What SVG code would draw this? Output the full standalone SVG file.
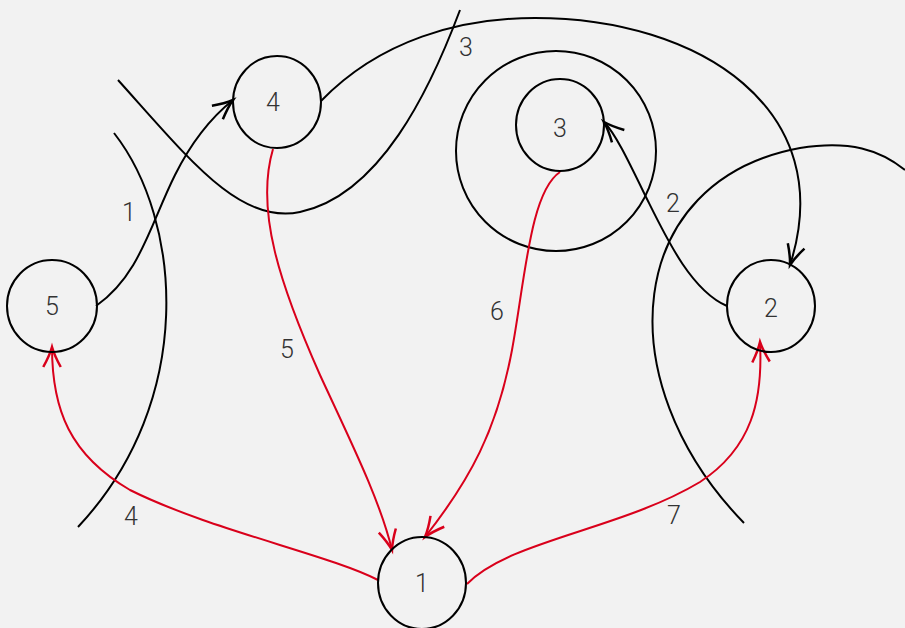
<svg xmlns="http://www.w3.org/2000/svg" width="905" height="628" viewBox="0 0 905 628">
<defs>
<style>
.bg{fill:#f2f2f2}
.node ellipse{fill:none;stroke:#000;stroke-width:2}
.node text,.lbl{font-family:Roboto,"Liberation Sans",sans-serif;font-weight:300;font-size:25px;fill:#333;text-anchor:middle;dominant-baseline:central}
.deco{fill:none;stroke:#000;stroke-width:2}
.e{fill:none;stroke-width:2}
.k{stroke:#000}
.r{stroke:#d9001b}
</style>
<marker id="ak" markerUnits="userSpaceOnUse" markerWidth="30" markerHeight="30" viewBox="-20 -10 24 20" refX="0" refY="0" orient="auto">
<path d="M-16,-7 Q-7,-2 0,0 Q-7,2 -16,7" fill="none" stroke="#000" stroke-width="2"/>
</marker>
<marker id="ar" markerUnits="userSpaceOnUse" markerWidth="30" markerHeight="30" viewBox="-20 -10 24 20" refX="0" refY="0" orient="auto">
<path d="M-16,-7 Q-7,-2 0,0 Q-7,2 -16,7" fill="none" stroke="#d9001b" stroke-width="2"/>
</marker>
</defs>
<rect class="bg" x="0" y="0" width="905" height="628"/>
<g id="decor">
<path class="deco" d="M118,80 C190,160 240,225 300,212 C380,195 430,90 460,10"/>
<path class="deco" d="M114,133 C182,220 197,400 78,527"/>
<path class="deco" d="M744,523 C605,380 625,180 800,148 C850,140 880,150 905,170"/>
<circle class="deco" cx="556" cy="151" r="100"/>
</g>
<g id="connectors">
<path class="e k" d="M96,306 C140,275 150,225 175,175 C195,135 218,112 233,100" marker-end="url(#ak)"/>
<path class="e k" d="M321,101 C380,40 460,18 535,18 C700,18 840,110 790,265" marker-end="url(#ak)"/>
<path class="e k" d="M727,306 C690,290 665,235 645,195 C628,160 615,133 604,122" marker-end="url(#ak)"/>
<path class="e r" d="M273,149 C255,210 280,285 320,375 C350,440 380,500 392,550" marker-end="url(#ar)"/>
<path class="e r" d="M560,172 C530,192 525,280 512,350 C497,430 470,480 425,537" marker-end="url(#ar)"/>
<path class="e r" d="M378,580 C330,555 210,530 130,490 C70,455 52,410 52,347" marker-end="url(#ar)"/>
<path class="e r" d="M467,584 C510,540 620,530 700,482 C752,448 763,400 760,342" marker-end="url(#ar)"/>
<text class="lbl" x="129" y="212">1</text>
<text class="lbl" x="466" y="47">3</text>
<text class="lbl" x="673" y="203">2</text>
<text class="lbl" x="287" y="349">5</text>
<text class="lbl" x="497" y="311">6</text>
<text class="lbl" x="131" y="516">4</text>
<text class="lbl" x="674" y="515">7</text>
</g>
<g id="n1" class="node"><ellipse cx="422" cy="583" rx="44" ry="46"/><text x="422" y="583">1</text></g>
<g id="n2" class="node"><ellipse cx="771" cy="306" rx="44" ry="46"/><text x="771" y="308">2</text></g>
<g id="n3" class="node"><ellipse cx="560" cy="125" rx="44" ry="46"/><text x="560" y="128">3</text></g>
<g id="n4" class="node"><ellipse cx="277" cy="102" rx="44" ry="46"/><text x="273" y="102">4</text></g>
<g id="n5" class="node"><ellipse cx="52" cy="306" rx="45" ry="46"/><text x="52" y="306">5</text></g>
</svg>
